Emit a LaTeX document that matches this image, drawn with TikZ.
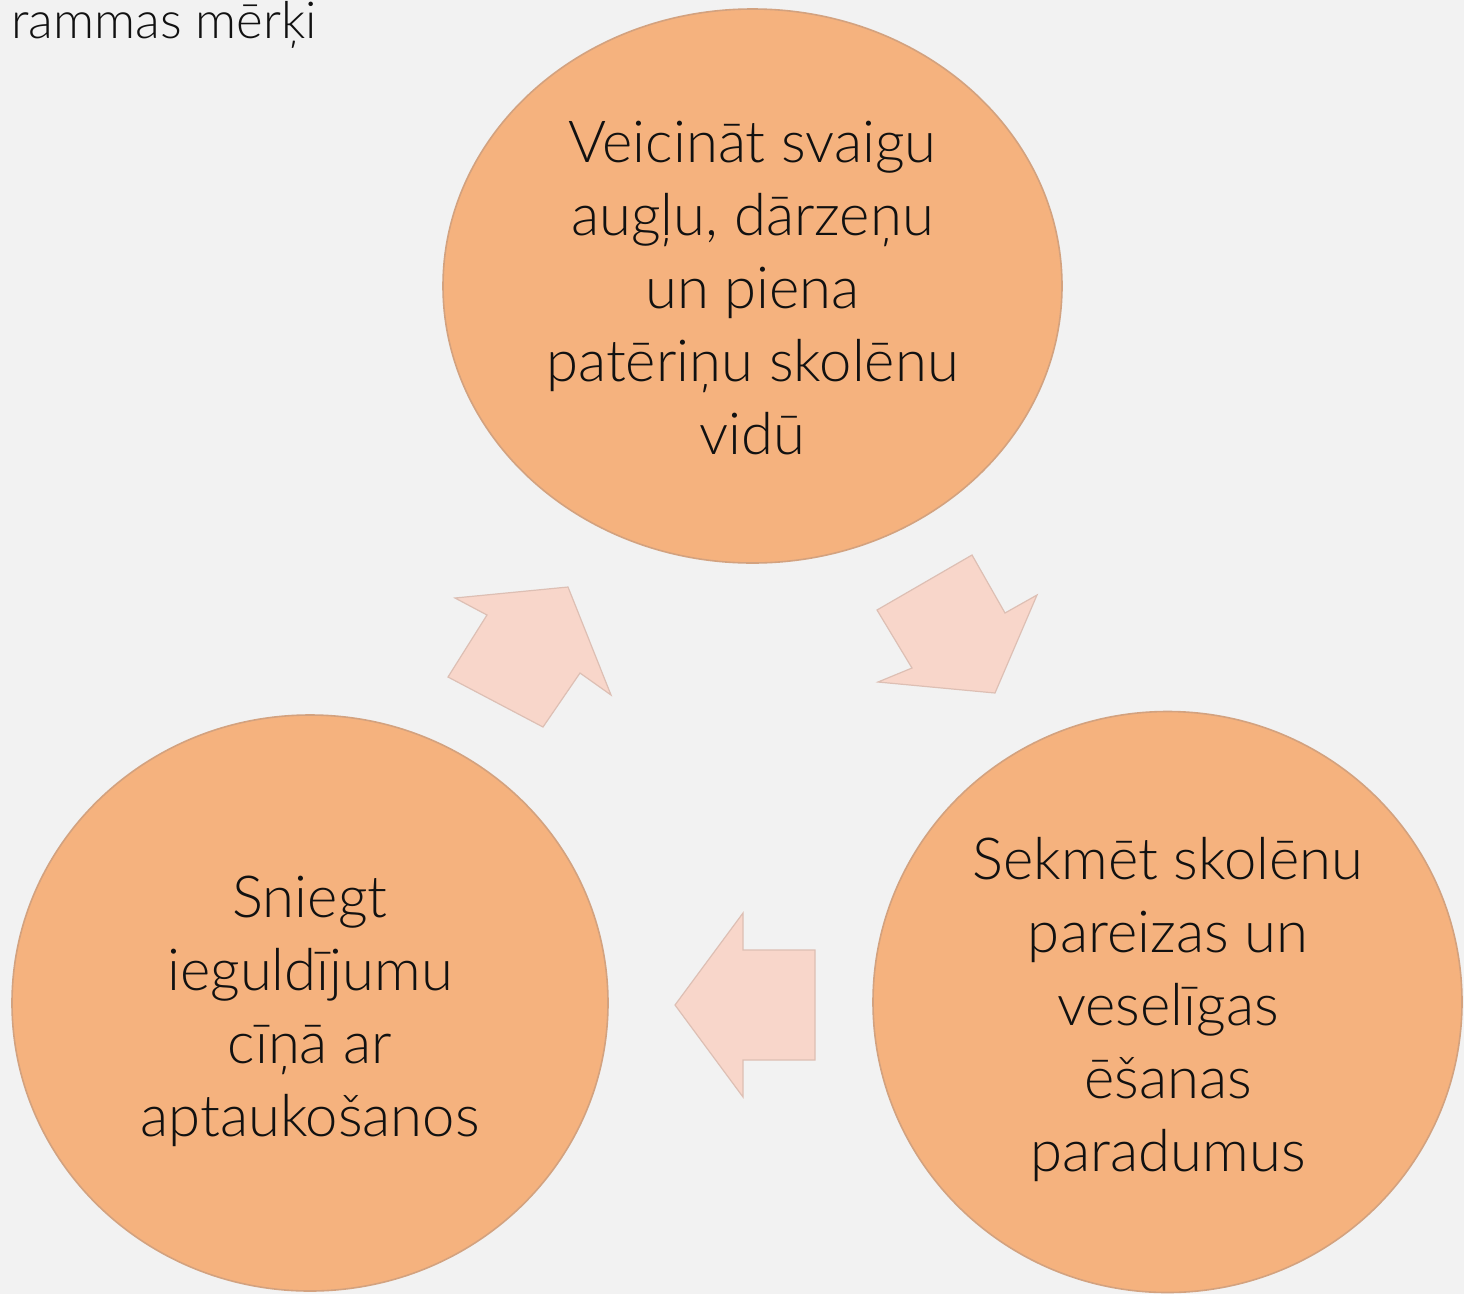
\documentclass[tikz,border=0pt]{standalone}
\usepackage{fontspec}
\setmainfont{Lato}
\IfFontExistsTF{Lato Light}{\newfontfamily\goalfont{Lato Light}}{\newfontfamily\goalfont{Lato}}
\usetikzlibrary{shapes.geometric}
\definecolor{bg}{HTML}{F2F2F2}
\definecolor{orangefill}{HTML}{F5B27E}
\definecolor{orangerim}{HTML}{D3A27F}
\definecolor{pinkfill}{HTML}{F8D6CA}
\definecolor{pinkrim}{HTML}{DDBFB4}
\definecolor{txt}{HTML}{111111}
\tikzset{
  goal/.style={ellipse, fill=orangefill, draw=orangerim, line width=1.6pt, inner sep=0pt},
  goaltext/.style={text=txt, align=center, font=\goalfont\fontsize{58}{73}\selectfont},
  cyclearrow/.style={fill=pinkfill, draw=pinkrim, line width=1.2pt, line join=miter}
}
\begin{document}
\begin{tikzpicture}[x=1pt,y=-1pt]
\useasboundingbox (0,0) rectangle (1464,1294);
\fill[bg] (0,0) rectangle (1464,1294);
% title (cut off at left)
\node[anchor=base east, text=txt, inner sep=0pt, font=\goalfont\fontsize{51}{60}\selectfont] (title) at (317,38) {rammas mērķi};
% circles
\node[goal, minimum width=619pt, minimum height=554pt] (top) at (752.5,286) {};
\node[goaltext] (toptext) at (752.5,288) {Veicināt svaigu\\augļu, dārzeņu\\un piena\\patēriņu skolēnu\\vidū};
\node[goal, minimum width=596pt, minimum height=576pt] (left) at (310,1003) {};
\node[goaltext] (lefttext) at (310,1011) {Sniegt\\ieguldījumu\\cīņā ar\\aptaukošanos};
\node[goal, minimum width=589pt, minimum height=581pt] (right) at (1167.5,1002) {};
\node[goaltext] (righttext) at (1168,1009) {Sekmēt skolēnu\\pareizas un\\veselīgas\\ēšanas\\paradumus};
% arrows
\draw[cyclearrow] (455,598) -- (568,587) -- (611,695) -- (580,673) -- (543,727) -- (448,677) -- (487,615) -- cycle;
\draw[cyclearrow] (877,610) -- (972,555) -- (1005,613) -- (1037,595) -- (995,693) -- (878,682) -- (912,668) -- cycle;
\draw[cyclearrow] (675,1005) -- (743,913) -- (743,950) -- (815,950) -- (815,1060) -- (743,1060) -- (743,1097) -- cycle;
\end{tikzpicture}
\end{document}
